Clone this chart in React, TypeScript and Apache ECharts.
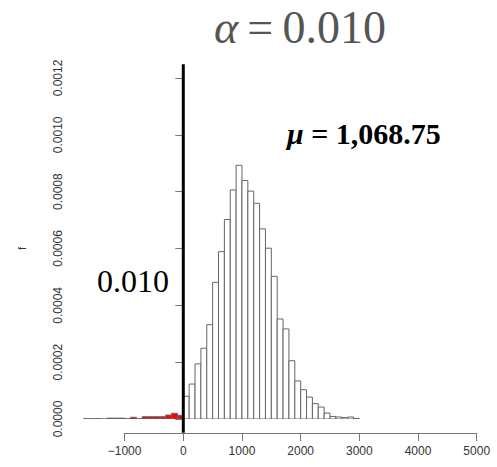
import React, { useEffect, useRef } from "react";
import * as echarts from "echarts";

// histogram bin starts (width 100) and densities
const binWidth = 100;
const binStarts = [
  -1700, -1600, -1500, -1400, -1300, -1200, -1100, -1000, -900, -800, -700, -600, -500, -400, -300, -200, -100,
  0, 100, 200, 300, 400, 500, 600, 700, 800, 900, 1000, 1100, 1200, 1300, 1400, 1500, 1600, 1700, 1800, 1900,
  2000, 2100, 2200, 2300, 2400, 2500, 2600, 2700, 2800, 2900,
];
const densities = [
  0.000001, 0.000001, 0.000001, 0.0, 0.000003, 0.000003, 0.000003, 0.000001, 0.000006, 0.000001, 0.000008,
  0.000008, 0.000008, 0.000008, 0.000014, 0.00002, 0.000013,
  0.00008, 0.000123, 0.000194, 0.000249, 0.000332, 0.000481, 0.000589, 0.000702, 0.000806, 0.000893,
  0.000839, 0.000802, 0.000759, 0.000669, 0.000601, 0.000502, 0.000352, 0.000317, 0.000205, 0.000134,
  0.000103, 0.000077, 0.000054, 0.000042, 0.000021, 0.000009, 0.000007, 0.000005, 0.000007, 0.000002,
];
const criticalValue = 0;
const alphaText = "0.010";
const tailText = "0.010";
const meanText = "1,068.75";
const xTicks = { min: -1000, max: 5000, interval: 1000 };
const yTicks = { min: 0, max: 0.0012, interval: 0.0002 };
// plot region in data units (R-style 4% expansion)
const plotX = [-1760, 5260];
const plotY = [-0.000048, 0.001248];

export default function App() {
  const ref = useRef<HTMLDivElement>(null);
  useEffect(() => {
    if (!ref.current) return;
    const chart = echarts.init(ref.current, null, { renderer: "svg" });
    const histData = binStarts.map((s, i) => [s, s + binWidth, densities[i], s < criticalValue ? 1 : 0]);
    const axisColor = "#777";
    const labelColor = "#333";
    chart.setOption({
      animation: false,
      grid: [
        { left: 80, right: 5, top: 78, bottom: 48 },
        { left: 124.6, right: 20.3, top: 78, bottom: 34 },
      ],
      xAxis: [
        { gridIndex: 0, type: "value", min: plotX[0], max: plotX[1], show: false },
        {
          gridIndex: 1,
          type: "value",
          min: xTicks.min,
          max: xTicks.max,
          interval: xTicks.interval,
          axisLine: { show: true, lineStyle: { color: axisColor, width: 1 } },
          axisTick: { show: true, length: 8, lineStyle: { color: axisColor } },
          axisLabel: {
            margin: 12,
            fontSize: 12,
            color: labelColor,
            fontFamily: "Liberation Sans",
            formatter: (v: number) => (v < 0 ? "\u2212" + Math.abs(v) : String(v)),
          },
          splitLine: { show: false },
        },
      ],
      yAxis: [
        {
          gridIndex: 0,
          type: "value",
          min: yTicks.min,
          max: yTicks.max,
          interval: yTicks.interval,
          axisLine: { show: true, lineStyle: { color: axisColor, width: 1 } },
          axisTick: { show: true, length: 8, lineStyle: { color: axisColor } },
          axisLabel: {
            rotate: 90,
            margin: 16,
            fontSize: 12,
            color: labelColor,
            fontFamily: "Liberation Sans",
            formatter: (v: number) => v.toFixed(4),
          },
          splitLine: { show: false },
          name: "f",
          nameLocation: "middle",
          nameGap: 53,
          nameRotate: 90,
          nameTextStyle: { fontSize: 11, color: labelColor, fontFamily: "Liberation Sans" },
        },
        { gridIndex: 1, type: "value", min: 0, max: 1, show: false },
      ],
      series: [
        {
          type: "custom",
          xAxisIndex: 0,
          yAxisIndex: 0,
          clip: true,
          encode: { x: [0, 1], y: 2 },
          data: histData,
          renderItem: (params: any, api: any) => {
            const p0 = api.coord([api.value(0), 0]);
            const p1 = api.coord([api.value(1), api.value(2)]);
            return {
              type: "rect",
              shape: { x: p0[0], y: p1[1], width: p1[0] - p0[0], height: p0[1] - p1[1] },
              style: { fill: api.value(3) ? "#ff0000" : "#ffffff", stroke: "#666", lineWidth: 1 },
            };
          },
        },
        {
          type: "custom",
          xAxisIndex: 0,
          yAxisIndex: 0,
          clip: false,
          encode: { x: 0, y: [1, 2] },
          data: [[criticalValue, plotY[0], plotY[1]]],
          renderItem: (params: any, api: any) => {
            const a = api.coord([api.value(0), api.value(1)]);
            const b = api.coord([api.value(0), api.value(2)]);
            return {
              type: "line",
              shape: { x1: a[0], y1: a[1], x2: b[0], y2: b[1] },
              style: { stroke: "#000", lineWidth: 3 },
            };
          },
        },
      ],
      graphic: [
        {
          type: "text",
          x: 300,
          y: 27,
          style: {
            text: "{a|α}\u2009=\u2009" + alphaText,
            align: "center",
            verticalAlign: "middle",
            fill: "#555",
            font: "46px 'Liberation Serif'",
            rich: {
              a: { fontStyle: "italic", fontSize: 46, fontFamily: "Liberation Serif", fill: "#555" },
            },
          },
        },
        {
          type: "text",
          x: 97,
          y: 281,
          style: {
            text: tailText,
            align: "left",
            verticalAlign: "middle",
            fill: "#000",
            font: "32px 'Liberation Serif'",
          },
        },
        {
          type: "text",
          x: 287,
          y: 133,
          style: {
            text: "{m|μ} = " + meanText,
            align: "left",
            verticalAlign: "middle",
            fill: "#000",
            font: "bold 30px 'Liberation Serif'",
            rich: {
              m: { fontStyle: "italic", fontWeight: "bold", fontSize: 30, fontFamily: "Liberation Serif", fill: "#000" },
            },
          },
        },
      ],
    });
    return () => chart.dispose();
  }, []);
  return <div ref={ref} style={{ position: "absolute", left: 0, top: 0, width: 497, height: 467 }} />;
}
